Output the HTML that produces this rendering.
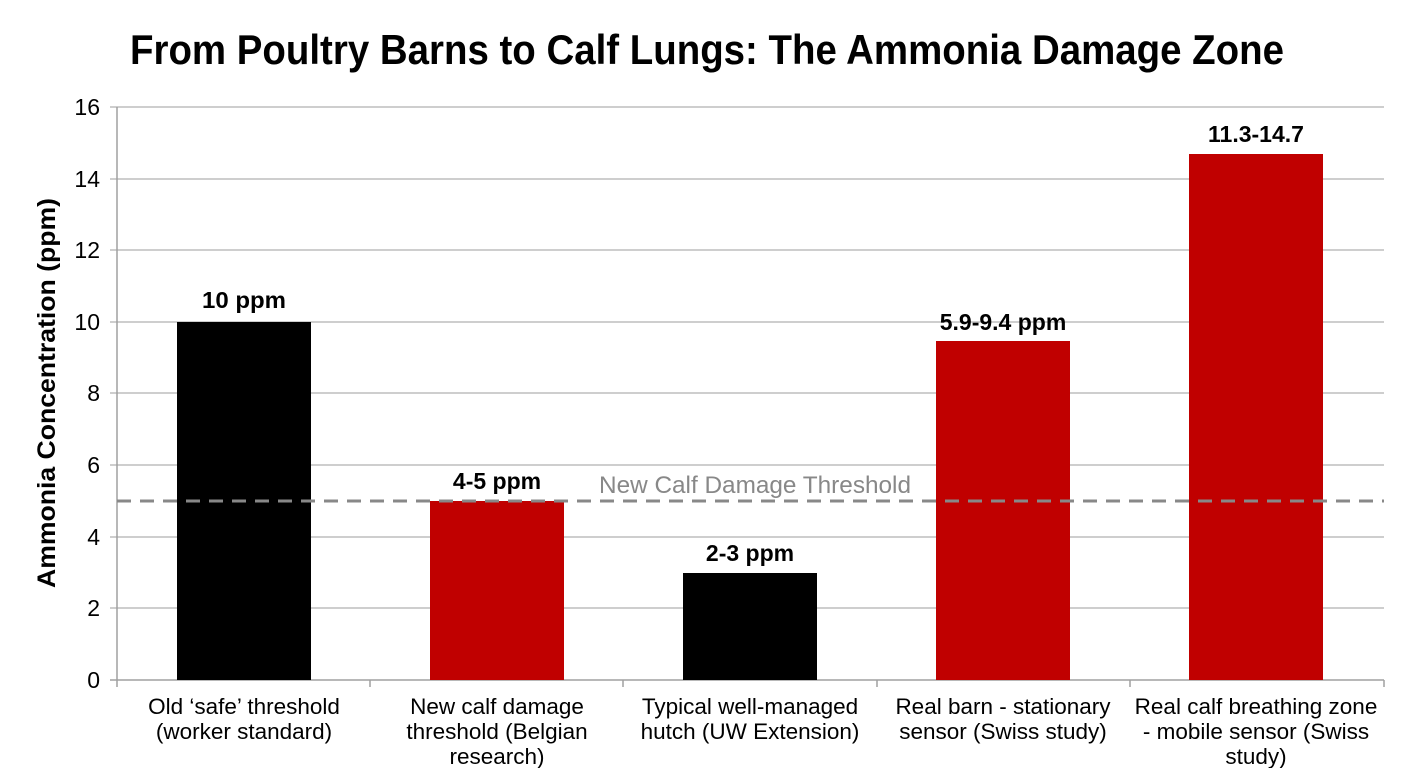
<!DOCTYPE html>
<html><head><meta charset="utf-8"><style>
html,body{margin:0;padding:0;background:#fff;}
svg{display:block;}
</style></head><body>
<svg width="1408" height="768" xmlns="http://www.w3.org/2000/svg" font-family="Liberation Sans, sans-serif">
<rect width="1408" height="768" fill="#fff"/>
<text x="707" y="64" text-anchor="middle" font-size="42" font-weight="bold" font-family="Liberation Sans Narrow, Liberation Sans, sans-serif" textLength="1154" lengthAdjust="spacingAndGlyphs" fill="#000">From Poultry Barns to Calf Lungs: The Ammonia Damage Zone</text>
<g stroke="#bdbdbd" stroke-width="1.5">
<line x1="110" y1="107" x2="1384" y2="107"/>
<line x1="110" y1="179" x2="1384" y2="179"/>
<line x1="110" y1="250" x2="1384" y2="250"/>
<line x1="110" y1="322" x2="1384" y2="322"/>
<line x1="110" y1="393" x2="1384" y2="393"/>
<line x1="110" y1="465" x2="1384" y2="465"/>
<line x1="110" y1="537" x2="1384" y2="537"/>
<line x1="110" y1="608" x2="1384" y2="608"/>
</g>
<g stroke="#a0a0a0" stroke-width="1.5">
<line x1="117" y1="107" x2="117" y2="687"/>
<line x1="110" y1="680" x2="1384" y2="680"/>
<line x1="370" y1="680" x2="370" y2="687"/>
<line x1="623" y1="680" x2="623" y2="687"/>
<line x1="877" y1="680" x2="877" y2="687"/>
<line x1="1130" y1="680" x2="1130" y2="687"/>
<line x1="1384" y1="680" x2="1384" y2="687"/>
</g>
<g font-size="23" fill="#000" text-anchor="end">
<text x="100" y="115">16</text><text x="100" y="187">14</text><text x="100" y="258">12</text>
<text x="100" y="330">10</text><text x="100" y="401">8</text><text x="100" y="473">6</text>
<text x="100" y="545">4</text><text x="100" y="616">2</text><text x="100" y="688">0</text>
</g>
<text transform="translate(55,393) rotate(-90)" text-anchor="middle" font-size="25" font-weight="bold" font-family="Liberation Sans Narrow, Liberation Sans, sans-serif" textLength="390" lengthAdjust="spacingAndGlyphs">Ammonia Concentration (ppm)</text>
<rect x="177" y="322" width="134" height="358" fill="#000"/>
<rect x="430" y="501" width="134" height="179" fill="#c00000"/>
<rect x="683" y="573" width="134" height="107" fill="#000"/>
<rect x="936" y="341" width="134" height="339" fill="#c00000"/>
<rect x="1189" y="154" width="134" height="526" fill="#c00000"/>
<line x1="117" y1="501" x2="1384" y2="501" stroke="#888" stroke-width="3" stroke-dasharray="14,9"/>
<text x="755" y="493" text-anchor="middle" font-size="24" fill="#888" textLength="312" lengthAdjust="spacingAndGlyphs">New Calf Damage Threshold</text>
<g font-size="23" font-weight="bold" text-anchor="middle">
<text x="244" y="308" textLength="84" lengthAdjust="spacingAndGlyphs">10 ppm</text>
<text x="497" y="489">4-5 ppm</text>
<text x="750" y="561">2-3 ppm</text>
<text x="1003" y="330">5.9-9.4 ppm</text>
<text x="1256" y="142">11.3-14.7</text>
</g>
<g font-size="22.5" text-anchor="middle" fill="#000">
<text x="244" y="714">Old ‘safe’ threshold</text><text x="244" y="739">(worker standard)</text>
<text x="497" y="714">New calf damage</text><text x="497" y="739">threshold (Belgian</text><text x="497" y="764">research)</text>
<text x="750" y="714">Typical well-managed</text><text x="750" y="739">hutch (UW Extension)</text>
<text x="1003" y="714">Real barn - stationary</text><text x="1003" y="739">sensor (Swiss study)</text>
<text x="1256" y="714">Real calf breathing zone</text><text x="1256" y="739">- mobile sensor (Swiss</text><text x="1256" y="764">study)</text>
</g>
</svg>
</body></html>
